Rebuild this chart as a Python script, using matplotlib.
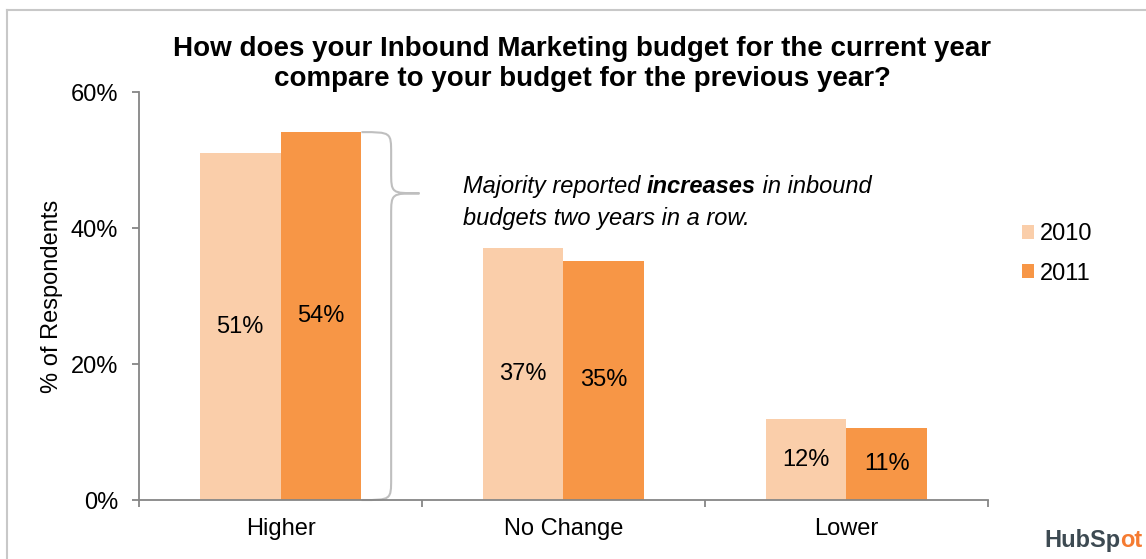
import matplotlib
matplotlib.use("Agg")
import matplotlib.pyplot as plt
from matplotlib.path import Path
from matplotlib.patches import PathPatch
from matplotlib.lines import Line2D
import numpy as np

plt.rcParams['font.family'] = ['Liberation Sans', 'DejaVu Sans']

# data
categories = ['Higher', 'No Change', 'Lower']
years = ['2010', '2011']
values_2010 = [51.0, 37.1, 11.9]
values_2011 = [54.1, 35.2, 10.6]
labels_2010 = ['51%', '37%', '12%']
labels_2011 = ['54%', '35%', '11%']
y_ticks = [0, 20, 40, 60]

c2010 = '#FACEAA'
c2011 = '#F79646'
axis_grey = '#868686'
fs = 17

fig = plt.figure(figsize=(11.46, 5.59), dpi=100)
ax = fig.add_axes([0.1213, 0.1055, 0.8621 - 0.1213, 0.8354 - 0.1055])

x = np.arange(len(categories))
w = 0.286
b1 = ax.bar(x - w / 2, values_2010, w, color=c2010, label=years[0])
b2 = ax.bar(x + w / 2, values_2011, w, color=c2011, label=years[1])

for bars, labs in ((b1, labels_2010), (b2, labels_2011)):
    for r, lab in zip(bars, labs):
        ax.text(r.get_x() + r.get_width() / 2, r.get_height() / 2, lab,
                ha='center', va='center', fontsize=fs, color='black')

ax.set_xlim(-0.5, len(categories) - 0.5)
ax.set_ylim(0, 60)
ax.set_yticks(y_ticks)
ax.set_yticklabels([f'{t}%' for t in y_ticks])
ax.set_xticks(np.arange(len(categories) + 1) - 0.5)
ax.set_xticklabels([])
ax.set_xticks(x, minor=True)
ax.set_xticklabels(categories, minor=True)
ax.tick_params(axis='x', which='minor', length=0, pad=13, labelsize=fs)
ax.tick_params(axis='x', which='major', length=5, width=1.3, color=axis_grey)
ax.tick_params(axis='y', length=5, width=1.3, color=axis_grey, pad=10, labelsize=fs)
for s in ('top', 'right'):
    ax.spines[s].set_visible(False)
for s in ('left', 'bottom'):
    ax.spines[s].set_color(axis_grey)
    ax.spines[s].set_linewidth(1.3)
ax.set_ylabel('% of Respondents', fontsize=fs, labelpad=5.5)

# curly brace next to the "Higher" bars
top = values_2011[0]
x0 = b2[0].get_x() + b2[0].get_width()
xm = x0 + 0.105
xt = x0 + 0.205
ym = 45.1
r = 3.2
verts = [(x0, top), (xm, top), (xm, top), (xm, top - r),
         (xm, ym + r),
         (xm, ym), (xm, ym), (xt, ym),
         (xm, ym), (xm, ym), (xm, ym - r),
         (xm, r),
         (xm, 0), (xm, 0), (x0, 0)]
codes = [Path.MOVETO, Path.CURVE4, Path.CURVE4, Path.CURVE4,
         Path.LINETO,
         Path.CURVE4, Path.CURVE4, Path.CURVE4,
         Path.CURVE4, Path.CURVE4, Path.CURVE4,
         Path.LINETO,
         Path.CURVE4, Path.CURVE4, Path.CURVE4]
ax.add_patch(PathPatch(Path(verts, codes), fill=False, edgecolor='#BFBFBF',
                       lw=1.5, clip_on=False))

# annotation with a bold word in the middle
tx, ty = 463 / 1146, 1 - 193 / 559
t1 = fig.text(tx, ty, 'Majority reported ', fontsize=fs, style='italic', va='baseline')
t2 = ax.annotate('increases', xy=(1, 0), xycoords=t1, fontsize=fs, style='italic',
                 weight='bold', va='bottom')
ax.annotate(' in inbound', xy=(1, 0), xycoords=t2, fontsize=fs, style='italic', va='bottom')
fig.text(tx, 1 - 225 / 559, 'budgets two years in a row.', fontsize=fs, style='italic',
         va='baseline')

fig.text(0.508, 1 - 64 / 559,
         'How does your Inbound Marketing budget for the current year\n'
         'compare to your budget for the previous year?',
         ha='center', va='center', fontsize=20, weight='bold', linespacing=1.2)

fig.legend(handles=[b1, b2], labels=years, loc='center left',
           bbox_to_anchor=(1001 / 1146, 1 - 254 / 559), frameon=False, fontsize=fs,
           handlelength=0.5, handleheight=0.55, handletextpad=0.25, labelspacing=0.72)

# frame lines visible at the top and left
fig.add_artist(Line2D([7 / 1146, 1.0], [1 - 10 / 559] * 2, color='#C8C8C8', lw=1.5))
fig.add_artist(Line2D([7 / 1146] * 2, [0, 1 - 10 / 559], color='#C8C8C8', lw=1.5))

# logo text
lg = fig.text(1044 / 1146, 1 - 547 / 559, 'HubSp', fontsize=fs, weight='bold',
              color='#3D4A52', va='baseline')
ax.annotate('ot', xy=(1, 0), xycoords=lg, fontsize=fs, weight='bold',
            color='#F57B31', va='bottom', annotation_clip=False)

fig.savefig('out.png', dpi=100)
